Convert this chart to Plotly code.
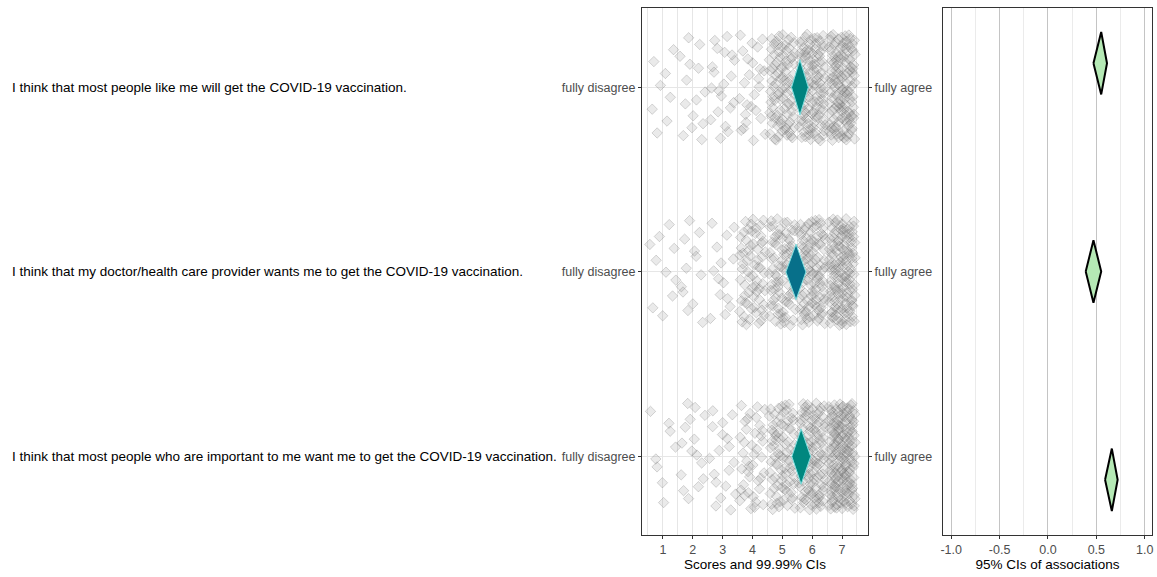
import numpy as np
import plotly.graph_objects as go

W, H = 1157, 577

# ---------------- data ----------------
items = [
    "I think that most people like me will get the COVID-19 vaccination.",
    "I think that my doctor/health care provider wants me to get the COVID-19 vaccination.",
    "I think that most people who are important to me want me to get the COVID-19 vaccination.",
]
score_levels = [1, 2, 3, 4, 5, 6, 7]
# estimated number of respondents per score level (per item)
counts_item1 = [8, 14, 20, 25, 90, 110, 130]
counts_item2 = [10, 12, 14, 65, 80, 100, 130]
counts_item3 = [8, 15, 18, 40, 80, 110, 160]

# 99.99% CIs of the means (lower, mean, upper)
score_ci_lo = [5.31, 5.12, 5.32]
score_ci_mean = [5.59, 5.46, 5.63]
score_ci_hi = [5.87, 5.79, 5.95]

# 95% CIs of associations (lower, estimate, upper)
assoc_lo = [0.47, 0.39, 0.59]
assoc_est = [0.55, 0.47, 0.66]
assoc_hi = [0.61, 0.55, 0.72]

score_tick_labels = ["1", "2", "3", "4", "5", "6", "7"]
assoc_tick_vals = [-1.0, -0.5, 0.0, 0.5, 1.0]
assoc_tick_labels = ["-1.0", "-0.5", "0.0", "0.5", "1.0"]

teal_colors = ["#00837f", "#07708a", "#00877f"]

# ---------------- layout helpers ----------------
def px_x(p):
    return p / W

def px_y(p):
    return 1 - p / H

def halton(k, base):
    f, r = 1.0, 0.0
    while k > 0:
        f /= base
        r += f * (k % base)
        k //= base
    return r

n_items = len(items)
ypos = [n_items - i for i in range(n_items)]  # item 1 at top

fig = go.Figure()

# jittered raw scores (deterministic Halton jitter used as position adjustment)
all_counts = [counts_item1, counts_item2, counts_item3]
for i, counts in enumerate(all_counts):
    xs, ys = [], []
    k = 17 + 101 * i
    for lvl, c in zip(score_levels, counts):
        for j in range(c):
            k += 1
            jx = halton(k, 2) - 0.5
            jy = halton(k, 3) - 0.5
            xs.append(lvl + 0.88 * jx)
            ys.append(ypos[i] + 0.58 * jy)
    fig.add_trace(go.Scatter(
        x=xs, y=ys, mode="markers", xaxis="x", yaxis="y",
        marker=dict(symbol="diamond", size=8, color="rgba(130,130,130,0.17)",
                    line=dict(color="rgba(90,90,90,0.24)", width=1)),
        hoverinfo="skip", showlegend=False))

HH = 0.15
# teal score diamonds
for i in range(n_items):
    y = ypos[i]
    fig.add_trace(go.Scatter(
        x=[score_ci_lo[i], score_ci_mean[i], score_ci_hi[i], score_ci_mean[i], score_ci_lo[i]],
        y=[y, y + HH, y, y - HH, y],
        mode="lines", fill="toself", fillcolor=teal_colors[i],
        line=dict(color="#7fdede", width=1), xaxis="x", yaxis="y",
        hoverinfo="skip", showlegend=False))

# green association diamonds
for i in range(n_items):
    y = ypos[i]
    fig.add_trace(go.Scatter(
        x=[assoc_lo[i], assoc_est[i], assoc_hi[i], assoc_est[i], assoc_lo[i]],
        y=[y, y + HH, y, y - HH, y],
        mode="lines", fill="toself", fillcolor="#b5e9b5",
        line=dict(color="black", width=2), xaxis="x2", yaxis="y3",
        hoverinfo="skip", showlegend=False))

# dummy trace to activate yaxis2
fig.add_trace(go.Scatter(x=[None], y=[None], xaxis="x", yaxis="y2",
                         showlegend=False, hoverinfo="skip"))

ydom = [px_y(535), px_y(8)]
font = "Liberation Sans, Arial, sans-serif"
tickfont = dict(size=12.5, color="#4d4d4d", family=font)

fig.update_layout(
    width=W, height=H, margin=dict(l=0, r=0, t=0, b=0, pad=0, autoexpand=False),
    plot_bgcolor="white", paper_bgcolor="white",
    font=dict(family=font, size=12, color="black"),
    xaxis=dict(domain=[px_x(642), px_x(868)], range=[0.3, 7.87], automargin=False,
               tickvals=score_levels, ticktext=score_tick_labels,
               showgrid=True, gridcolor="#e6e6e6", gridwidth=1,
               minor=dict(dtick=0.5, tick0=0.5, showgrid=True, gridcolor="#e6e6e6"),
               ticks="outside", ticklen=3, tickcolor="#333333",
               tickfont=tickfont,
               showline=True, linecolor="#333333", linewidth=1, mirror=True,
               zeroline=False,
               title=dict(text="Scores and 99.99% CIs", standoff=1,
                          font=dict(size=13.5, color="black"))),
    yaxis=dict(domain=ydom, range=[0.575, 3.43], anchor="x", automargin=False,
               tickvals=ypos, ticktext=["fully disagree"] * n_items,
               showgrid=True, gridcolor="#e6e6e6", zeroline=False,
               ticks="outside", ticklen=3, tickcolor="#333333",
               tickfont=tickfont,
               showline=True, linecolor="#333333", linewidth=1, mirror=True),
    yaxis2=dict(domain=ydom, range=[0.575, 3.43], anchor="x", overlaying="y",
                automargin=False,
                side="right", tickvals=ypos, ticktext=["fully agree"] * n_items,
                showgrid=False, zeroline=False,
                ticks="outside", ticklen=3, tickcolor="#333333",
                tickfont=tickfont),
    xaxis2=dict(domain=[px_x(943), px_x(1152)], range=[-1.085, 1.075], anchor="y3",
                automargin=False,
                tickvals=assoc_tick_vals, ticktext=assoc_tick_labels,
                showgrid=True, gridcolor="#c4c4c4", gridwidth=1,
                minor=dict(dtick=0.25, tick0=0, showgrid=True, gridcolor="#ebebeb"),
                ticks="outside", ticklen=3, tickcolor="#333333",
                tickfont=tickfont,
                showline=True, linecolor="#333333", linewidth=1, mirror=True,
                zeroline=False,
                title=dict(text="95% CIs of associations", standoff=1,
                           font=dict(size=13.5, color="black"))),
    yaxis3=dict(domain=ydom, range=[0.735, 3.265], anchor="x2", automargin=False,
                showticklabels=False, showgrid=False, zeroline=False, ticks="",
                showline=True, linecolor="#333333", linewidth=1, mirror=True),
)

for i, txt in enumerate(items):
    fig.add_annotation(text=txt, xref="paper", yref="y", x=px_x(10), y=ypos[i],
                       xanchor="left", yanchor="middle", showarrow=False,
                       font=dict(size=13.5, color="black", family=font))

fig.write_html("out.html", config={"displayModeBar": False},
               post_script="document.body.style.margin='0';document.body.style.padding='0';")
